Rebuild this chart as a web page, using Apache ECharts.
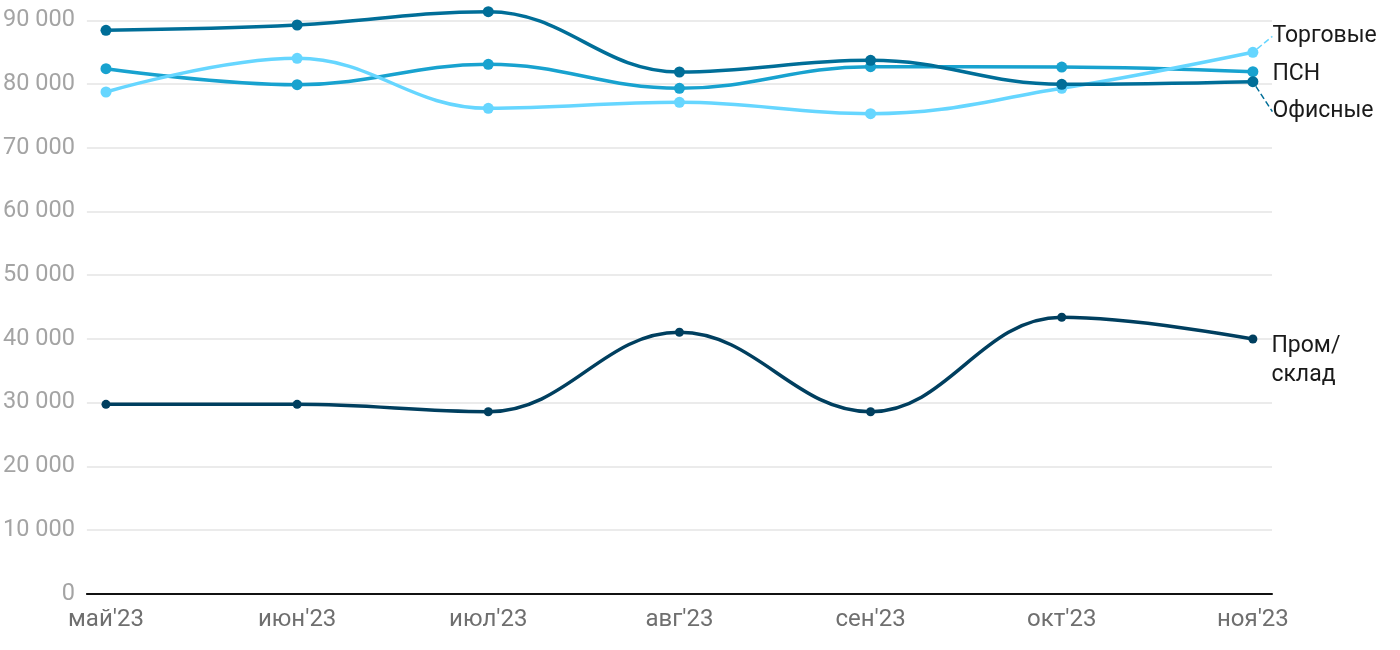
<!DOCTYPE html>
<html><head><meta charset="utf-8">
<script src="https://cdn.jsdelivr.net/npm/echarts@6/dist/echarts.min.js"></script>
<style>html,body{margin:0;padding:0;background:#fff}#c{width:1400px;height:650px}</style>
</head><body><div id="c"></div>
<script>
const categories = ["май'23","июн'23","июл'23","авг'23","сен'23","окт'23","ноя'23"];
const yTicks = [0,10000,20000,30000,40000,50000,60000,70000,80000,90000];
const office = [88450, 89280, 91370, 81900, 83740, 79970, 80380];
const psn = [82420, 79910, 83110, 79340, 82730, 82680, 81950];
const retail = [78760, 84050, 76200, 77140, 75350, 79340, 84990];
const industrial = [29730, 29730, 28570, 41040, 28570, 43390, 39980];
const seriesNames = ['Офисные','ПСН','Торговые','Пром/\nсклад'];

const chart = echarts.init(document.getElementById('c'));
function fmt(v){ return String(v).replace(/\B(?=(\d{3})+(?!\d))/g,' '); }
function mk(name, vals, color, sym, lblDy, vAlign, guide){
  const last = vals.length-1;
  return {
    name, type:'line', smooth:0.4, clip:false,
    symbol:'circle', symbolSize:sym,
    lineStyle:{width:3.5,color}, itemStyle:{color},
    data: vals.map((v,i)=> i===last ? {value:[i,v], label:{show:true}} : [i,v]),
    label:{show:false, position:'right', distance:14, formatter:()=>name,
      fontFamily:'Roboto', fontSize:23, color:'#1a1a1a', lineHeight:29,
      verticalAlign: vAlign || 'middle'},
    labelLine:{show:!!guide, lineStyle:{type:'dashed', width:1.5, color}},
    labelLayout: lblDy ? {dy: lblDy} : undefined,
    emphasis:{disabled:true}
  };
}
chart.setOption({
  animation:false,
  grid:{left:85,right:128,top:20.4,bottom:56.3,containLabel:false},
  xAxis:{type:'value',min:-0.1,max:6.1,
    axisLine:{show:true,onZero:false,lineStyle:{color:'#111',width:2}},
    axisTick:{show:false},splitLine:{show:false},
    axisLabel:{customValues:categories.map((c,i)=>i),formatter:v=>categories[Math.round(v)],
      fontFamily:'Roboto',fontSize:24,color:'#6f6f6f',margin:14}},
  yAxis:{type:'value',min:0,max:90000,interval:10000,
    axisLine:{show:false},axisTick:{show:false},
    splitLine:{lineStyle:{color:'#e4e4e4',width:1.5}},
    axisLabel:{formatter:v=>fmt(v),fontFamily:'Roboto',fontSize:23.5,color:'#a4a4a4',margin:12}},
  series:[
    mk(seriesNames[3], industrial, '#003f5f', 9, -7, 'top', false),
    mk(seriesNames[1], psn, '#18a2cf', 11, 3, null, false),
    mk(seriesNames[2], retail, '#66d6ff', 11, -16, null, true),
    mk(seriesNames[0], office, '#006e98', 11, 30, null, true)
  ]
});
</script></body></html>
